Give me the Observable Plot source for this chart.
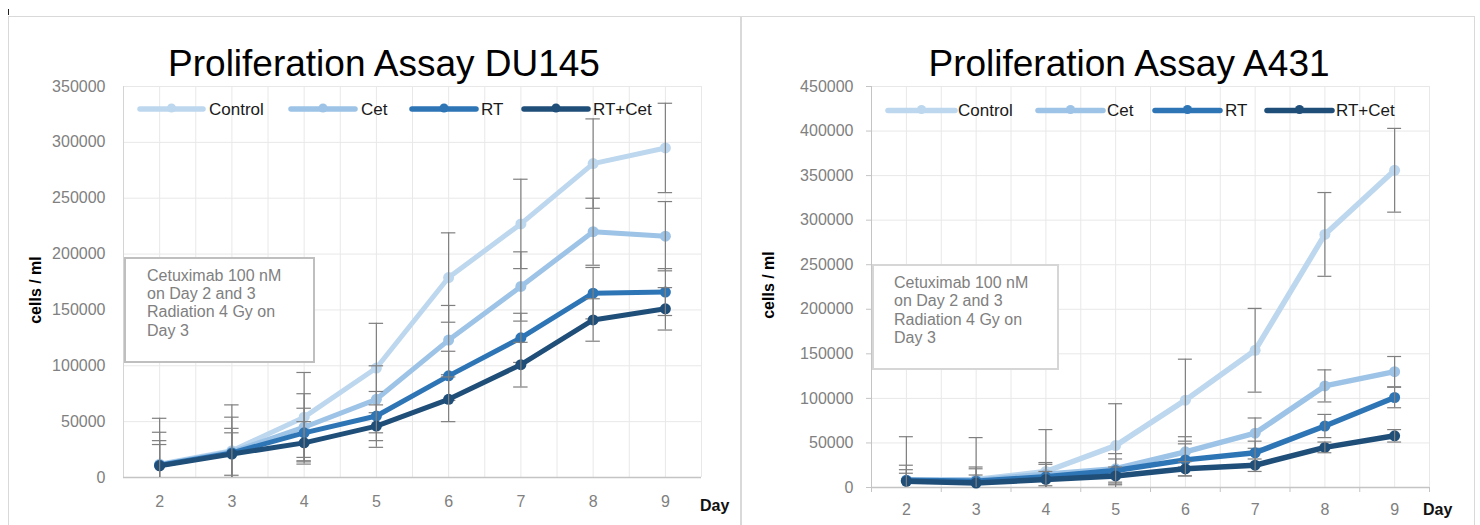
<!DOCTYPE html>
<html><head><meta charset="utf-8">
<script src="https://cdn.jsdelivr.net/npm/d3@7"></script>
<script src="https://cdn.jsdelivr.net/npm/@observablehq/plot@0.6"></script>
<style>
html,body{margin:0;padding:0;background:#fff;}
#page{position:relative;width:1480px;height:525px;overflow:hidden;font-family:"Liberation Sans",Arial,sans-serif;}
.abs{position:absolute;white-space:nowrap;line-height:1;}
.panel{position:absolute;border:1px solid #d9d9d9;box-sizing:border-box;}
.box{position:absolute;background:#fff;box-sizing:border-box;}
svg.chart{position:absolute;top:0;}
</style></head><body><div id="page"></div>
<script>
// ---------- data ----------
const days = [2, 3, 4, 5, 6, 7, 8, 9];
const seriesNames = ["Control", "Cet", "RT", "RT+Cet"];
const seriesColors = ["#bdd7ee", "#9dc3e6", "#2e75b6", "#1f4e79"];

const du145Control = [12000, 24000, 54000, 98000, 179000, 227000, 281000, 295000];
const du145Cet     = [11500, 23000, 45000, 70000, 123000, 171000, 220000, 216000];
const du145RT      = [11000, 22000, 40000, 55000, 91000, 125000, 165000, 166000];
const du145RTCet   = [10500, 21000, 31000, 46000, 70000, 101000, 141000, 151000];
const du145ControlErr = [41000, 41000, 40000, 40000, 40000, 40000, 40000, 40000];
const du145CetErr     = [29000, 31000, 30000, 30000, 31000, 31000, 30000, 31000];
const du145RTErr      = [22000, 22000, 22000, 22000, 22000, 22000, 23000, 21000];
const du145RTCetErr   = [19000, 19000, 19000, 19000, 20000, 20000, 19000, 19000];

const a431Control = [8000, 9000, 18000, 47000, 98000, 154000, 284000, 356000];
const a431Cet     = [8000, 8000, 15000, 21000, 40000, 61000, 114000, 130000];
const a431RT      = [8000, 7000, 12000, 19000, 31000, 39000, 69000, 101000];
const a431RTCet   = [7000, 5000, 9000, 13000, 21000, 25000, 45000, 58000];
const a431ControlErr = [49000, 47000, 47000, 47000, 46000, 47000, 47000, 47000];
const a431CetErr     = [17000, 15000, 13000, 17000, 17000, 17000, 18000, 17000];
const a431RTErr      = [12000, 14000, 14000, 13000, 18000, 13000, 13000, 11500];
const a431RTCetErr   = [9000, 9000, 9000, 10000, 8000, 7000, 6000, 7000];

const du145Ticks = [0, 50000, 100000, 150000, 200000, 250000, 300000, 350000];
const a431Ticks  = [0, 50000, 100000, 150000, 200000, 250000, 300000, 350000, 400000, 450000];
const noteLines = ["Cetuximab 100 nM", "on Day 2 and 3", "Radiation 4 Gy on", "Day 3"];
const titles = ["Proliferation Assay DU145", "Proliferation Assay A431"];
const yTitle = "cells / ml";
const xTitle = "Day";

// ---------- layout ----------
const panels = [
  {
    title: titles[0], titleX: 384, titleBase: 76,
    left: 0, width: 741, mL: 123, mR: 40, mB: 48, yTicks: du145Ticks,
    yTickSize: 0, yTickPad: 18, xPad: 18.3, xTickMarks: false, yAxisColor: "#d4d4d4", lw: 5, r: 5.5,
    values: [du145Control, du145Cet, du145RT, du145RTCet],
    errors: [du145ControlErr, du145CetErr, du145RTErr, du145RTCetErr],
    legendLines: [[140, 203], [291, 355], [412, 476], [524, 588]], legendY: 109,
    legendText: [209, 361, 481, 593], legendBase: 115,
    box: [124, 257, 191, 106, "#bfbfbf"], noteX: 147, noteBase: [282, 300, 318, 337],
    yTitleX: 36, yTitleY: 290, dayX: 700, dayBase: 512
  },
  {
    title: titles[1], titleX: 1129, titleBase: 76,
    left: 741, width: 734, mL: 130, mR: 46, mB: 38, yTicks: a431Ticks,
    yTickSize: 5, yTickPad: 13, xPad: 16.6, xTickMarks: true, yAxisColor: "#c4c4c4", lw: 5.5, r: 5.5,
    values: [a431Control, a431Cet, a431RT, a431RTCet],
    errors: [a431ControlErr, a431CetErr, a431RTErr, a431RTCetErr],
    legendLines: [[888, 955], [1038, 1103], [1155, 1220], [1267, 1332]], legendY: 110.5,
    legendText: [958, 1107, 1225, 1336], legendBase: 116,
    box: [872, 264, 187, 106, "#d6d6d6"], noteX: 894, noteBase: [289, 307, 326, 344],
    yTitleX: 769, yTitleY: 285, dayX: 1423, dayBase: 516
  }
];

const page = document.getElementById("page");
const ASC = 0.8465; // baseline offset factor for line-height:1 (Liberation Sans)

function addText(txt, x, base, size, opts = {}) {
  const d = document.createElement("div");
  d.className = "abs";
  d.textContent = txt;
  d.style.fontSize = size + "px";
  d.style.top = (base - ASC * size) + "px";
  d.style.left = x + "px";
  d.style.color = opts.color || "#000";
  if (opts.weight) d.style.fontWeight = opts.weight;
  if (opts.center) d.style.transform = "translateX(-50%)";
  page.appendChild(d);
  return d;
}

// panel frames
[[8, 16, 733, 540], [741, 16, 734, 540]].forEach(([x, y, w, h]) => {
  const d = document.createElement("div");
  d.className = "panel";
  Object.assign(d.style, {left: x + "px", top: y + "px", width: w + "px", height: h + "px"});
  page.appendChild(d);
});
// small mark top-left
{
  const d = document.createElement("div");
  Object.assign(d.style, {position: "absolute", left: "8px", top: "9px", width: "1px", height: "6px", background: "#222"});
  page.appendChild(d);
}

panels.forEach(p => {
  const marks = [
    Plot.gridY(p.yTicks.filter(t => t > 0), {stroke: "#e8e8e8", strokeOpacity: 1}),
    Plot.gridX(d3.range(2, 9.51, 0.5), {stroke: "#e8e8e8", strokeOpacity: 1}),
    Plot.ruleX([1.5], {stroke: p.yAxisColor}),
    Plot.ruleY([0], {stroke: "#c4c4c4", strokeWidth: 1.3}),
    Plot.axisY(p.yTicks, {tickSize: p.yTickSize, tickPadding: p.yTickPad, tickFormat: d3.format("d"),
      fill: "#808080", stroke: "#c4c4c4", fontSize: 16, label: null}),
    Plot.axisX(days, {tickSize: 0, tickPadding: p.xPad, fill: "#808080", fontSize: 16, label: null})
  ];
  if (p.xTickMarks) {
    marks.push(Plot.axisX(d3.range(1.5, 9.51, 1), {tickSize: 5, tickFormat: () => "", stroke: "#c4c4c4", label: null}));
  }
  p.values.forEach((vals, i) => {
    const rows = days.map((d, j) => ({day: d, v: vals[j], e: p.errors[i][j]}));
    const caps = rows.flatMap(d => [{day: d.day, y: d.v - d.e}, {day: d.day, y: d.v + d.e}]);
    marks.push(Plot.line(rows, {x: "day", y: "v", stroke: seriesColors[i], strokeWidth: p.lw,
      strokeLinejoin: "round", strokeLinecap: "round"}));
    marks.push(Plot.dot(rows, {x: "day", y: "v", r: p.r, fill: seriesColors[i], stroke: "none"}));
    marks.push(Plot.ruleX(rows, {x: "day", y1: d => d.v - d.e, y2: d => d.v + d.e,
      stroke: "#7f7f7f", strokeWidth: 1.2, clip: true}));
    marks.push(Plot.ruleY(caps, {y: "y", x1: d => d.day - 0.1, x2: d => d.day + 0.1,
      stroke: "#7f7f7f", strokeWidth: 1.2, clip: true}));
  });
  const svg = Plot.plot({
    width: p.width, height: 525,
    marginLeft: p.mL, marginRight: p.mR, marginTop: 86, marginBottom: p.mB,
    x: {domain: [1.5, 9.5]},
    y: {domain: [0, p.yTicks[p.yTicks.length - 1]]},
    style: {fontFamily: "Liberation Sans, Arial, sans-serif", background: "transparent", overflow: "visible"},
    marks
  });
  svg.classList.add("chart");
  svg.style.left = p.left + "px";
  page.appendChild(svg);

  // title
  addText(p.title, p.titleX, p.titleBase, 37, {center: true});

  // legend
  const lg = d3.select(page).append("svg")
    .style("position", "absolute").style("left", 0).style("top", 0)
    .attr("width", 1480).attr("height", 525).style("pointer-events", "none");
  seriesNames.forEach((name, i) => {
    const [x1, x2] = p.legendLines[i];
    lg.append("line").attr("x1", x1).attr("x2", x2).attr("y1", p.legendY).attr("y2", p.legendY)
      .attr("stroke", seriesColors[i]).attr("stroke-width", 5.5).attr("stroke-linecap", "round");
    lg.append("circle").attr("cx", (x1 + x2) / 2).attr("cy", p.legendY - 1).attr("r", 4.5).attr("fill", seriesColors[i]);
    addText(name, p.legendText[i], p.legendBase, 17, {color: "#1a1a1a"});
  });

  // note box
  const [bx, by, bw, bh, bc] = p.box;
  const b = document.createElement("div");
  b.className = "box";
  Object.assign(b.style, {left: bx + "px", top: by + "px", width: bw + "px", height: bh + "px", border: "2px solid " + bc});
  page.appendChild(b);
  noteLines.forEach((t, i) => addText(t, p.noteX, p.noteBase[i], 16, {color: "#808080"}));

  // axis titles
  const yt = document.createElement("div");
  yt.className = "abs";
  yt.textContent = yTitle;
  Object.assign(yt.style, {fontSize: "16px", fontWeight: "bold", left: p.yTitleX + "px", top: p.yTitleY + "px",
    transform: "translate(-50%,-50%) rotate(-90deg)", color: "#000"});
  page.appendChild(yt);
  addText(xTitle, p.dayX, p.dayBase, 16, {weight: "bold", color: "#111"});
});
</script></body></html>
